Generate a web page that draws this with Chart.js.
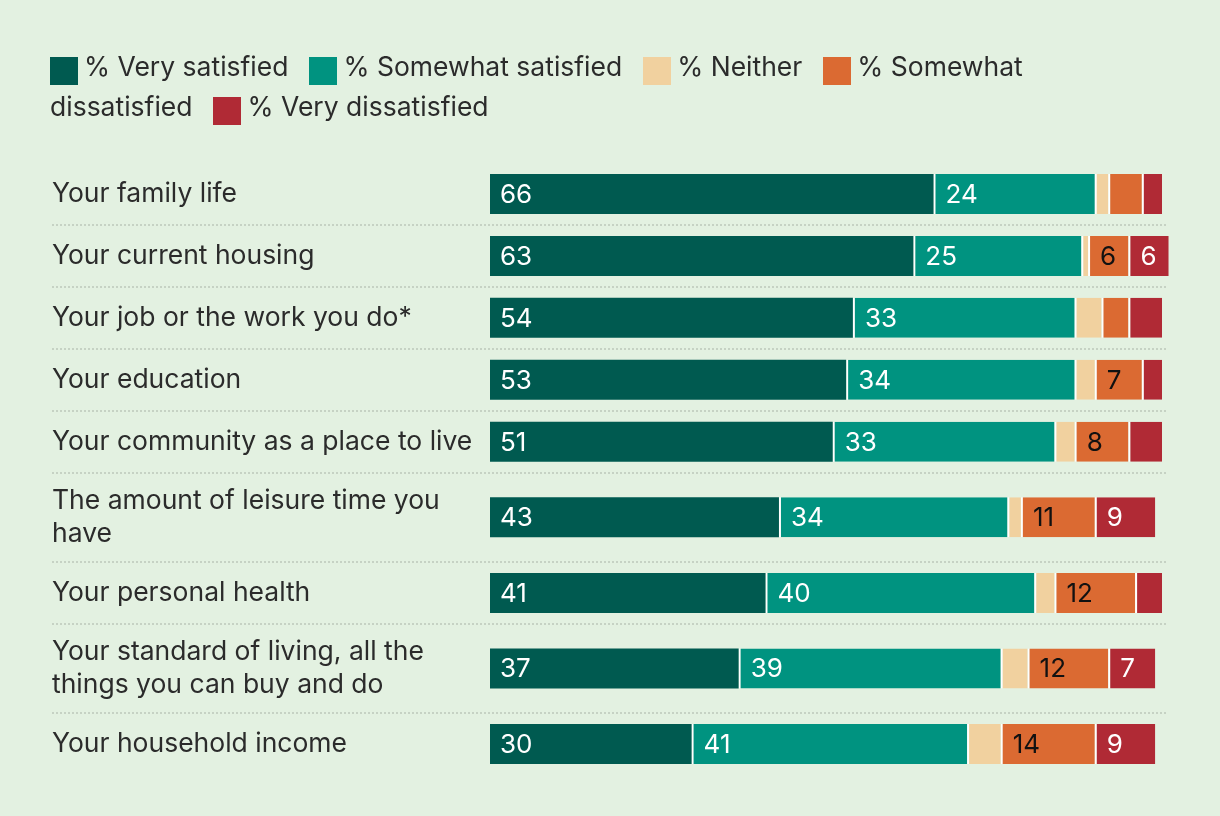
<!DOCTYPE html>
<html><head><meta charset="utf-8">
<script src="https://cdn.jsdelivr.net/npm/chart.js@4.4.1/dist/chart.umd.min.js"></script>
<style>
html,body{margin:0;padding:0;background:#e3f1e1;width:1220px;height:816px;overflow:hidden;font-family:Inter, "Liberation Sans", sans-serif;}
#legend{position:absolute;left:50px;top:46px;width:1110px;font-size:26.5px;line-height:40px;color:#2b2b2b;}
.item{margin-right:21px;}
.sw{display:inline-block;width:28px;height:28px;vertical-align:-9px;margin-right:6px;}
#wrap{position:absolute;left:0;top:0;width:1220px;height:816px;}
</style></head>
<body>
<div id="wrap"><canvas id="c"></canvas></div>
<div id="legend"></div>
<script>
// ---- data ----
const categories = [
  ["Your family life"],
  ["Your current housing"],
  ["Your job or the work you do*"],
  ["Your education"],
  ["Your community as a place to live"],
  ["The amount of leisure time you", "have"],
  ["Your personal health"],
  ["Your standard of living, all the", "things you can buy and do"],
  ["Your household income"]
];
const seriesNames = ["% Very satisfied", "% Somewhat satisfied", "% Neither", "% Somewhat dissatisfied", "% Very dissatisfied"];
const verySatisfied        = [66, 63, 54, 53, 51, 43, 41, 37, 30];
const somewhatSatisfied    = [24, 25, 33, 34, 33, 34, 40, 39, 41];
const neither              = [2, 1, 4, 3, 3, 2, 3, 4, 5];
const somewhatDissatisfied = [5, 6, 4, 7, 8, 11, 12, 12, 14];
const veryDissatisfied     = [3, 6, 5, 3, 5, 9, 4, 7, 9];
const seriesColors = ["#005a50", "#009380", "#f1d19f", "#db6a32", "#b02a35"];
const labelColors  = ["#ffffff", "#ffffff", "#111111", "#111111", "#ffffff"];
const LABEL_MIN = 6;

// ---- row layout derived from label line counts ----
const EXTRA_LINE_UNITS = 0.44;
const rowHeights = categories.map(c => 1 + EXTRA_LINE_UNITS * (c.length - 1));
const rowCenters = [];
const rowBounds = [0];
let acc = 0;
rowHeights.forEach(h => { rowCenters.push(acc + h / 2); acc += h; rowBounds.push(acc); });
const totalUnits = acc;

const allSeries = [verySatisfied, somewhatSatisfied, neither, somewhatDissatisfied, veryDissatisfied];

// ---- HTML legend ----
const legendEl = document.getElementById('legend');
legendEl.innerHTML = seriesNames.map((n, i) =>
  `<span class="item"><span class="sw" style="background:${seriesColors[i]}"></span>${n}</span>`).join('');

const datasets = allSeries.map((vals, i) => ({
  label: seriesNames[i],
  data: vals.map((v, j) => ({ x: v, y: rowCenters[j] })),
  backgroundColor: seriesColors[i],
  borderColor: '#ffffff',
  borderWidth: { left: i === 0 ? 0 : 2, right: 0, top: 0, bottom: 0 },
  borderSkipped: false,
  barThickness: 40,
  clip: false,
  inflateAmount: 0
}));

const separators = {
  id: 'separators',
  beforeDatasetsDraw(chart) {
    const ctx = chart.ctx, ys = chart.scales.y;
    ctx.save();
    ctx.strokeStyle = '#c6d2c4';
    ctx.lineWidth = 2;
    ctx.setLineDash([2, 2]);
    for (let k = 1; k < rowBounds.length - 1; k++) {
      const y = Math.round(ys.getPixelForValue(rowBounds[k]));
      ctx.beginPath();
      ctx.moveTo(52, y);
      ctx.lineTo(1168, y);
      ctx.stroke();
    }
    ctx.restore();
  }
};

const valueLabels = {
  id: 'valueLabels',
  afterDatasetsDraw(chart) {
    const ctx = chart.ctx;
    ctx.save();
    ctx.font = '26px Inter';
    ctx.textBaseline = 'middle';
    ctx.textAlign = 'left';
    chart.data.datasets.forEach((ds, i) => {
      const meta = chart.getDatasetMeta(i);
      meta.data.forEach((el, j) => {
        const v = allSeries[i][j];
        if (v < LABEL_MIN) return;
        const left = Math.min(el.x, el.base) + (i === 0 ? 0 : 2);
        ctx.fillStyle = labelColors[i];
        ctx.fillText(String(v), left + 10, el.y + 1);
      });
    });
    ctx.restore();
  }
};

new Chart(document.getElementById('c'), {
  type: 'bar',
  data: { datasets },
  options: {
    indexAxis: 'y',
    responsive: true,
    maintainAspectRatio: false,
    animation: false,
    events: [],
    layout: { padding: { left: 52, right: 58, top: 163, bottom: 41 } },
    plugins: { legend: { display: false }, tooltip: { enabled: false } },
    scales: {
      x: { type: 'linear', stacked: true, min: 0, max: 100, display: false },
      y: {
        type: 'linear', stacked: true, reverse: true, offset: false, min: 0, max: totalUnits,
        grid: { display: false }, border: { display: false },
        afterBuildTicks: (scale) => { scale.ticks = rowCenters.map(v => ({ value: v })); },
        afterFit: (scale) => { scale.width = 438; },
        ticks: {
          autoSkip: false, crossAlign: 'far', padding: 0,
          color: '#2b2b2b',
          font: { family: 'Inter', size: 26.5, lineHeight: 1.23 },
          callback: (v, i) => categories[i]
        }
      }
    }
  },
  plugins: [separators, valueLabels]
});
</script>
</body></html>
